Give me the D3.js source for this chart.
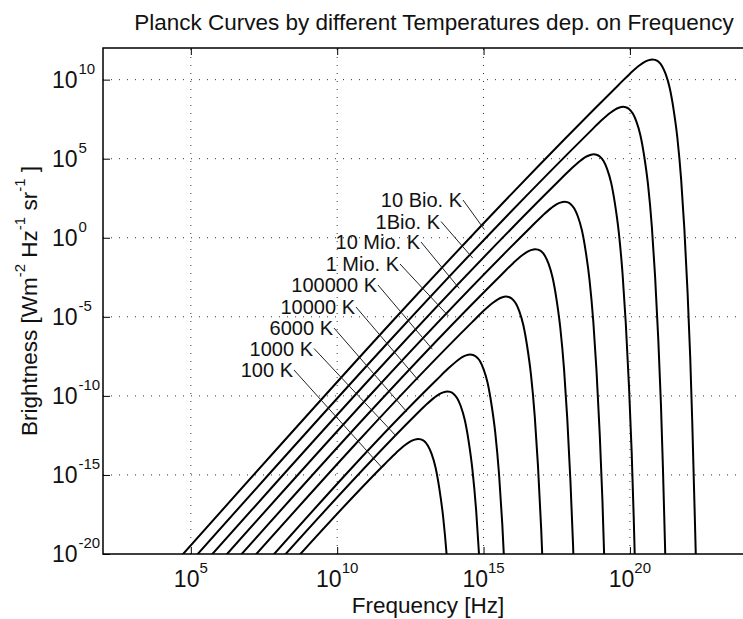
<!DOCTYPE html>
<html>
<head>
<meta charset="utf-8">
<script src="https://cdn.jsdelivr.net/npm/d3@7"></script>
<style>
  body { margin: 0; background: #fff; }
  text { font-family: "Liberation Sans", Arial, Helvetica, sans-serif; fill: #111; }
</style>
</head>
<body>
<svg id="chart" width="743" height="619"></svg>
<script>
// each curve: [log10 frequency in Hz, log10 brightness]
const curve100K = [[8.26,-20.99],[11.62,-14.32],[12.02,-13.59],[12.32,-13.11],[12.49,-12.89],[12.62,-12.78],[12.77,-12.72],[12.86,-12.75],[12.97,-12.86],[13.10,-13.15],[13.22,-13.64],[13.36,-14.53],[13.49,-15.86],[13.62,-17.66],[13.75,-20.31],[13.86,-23.44]];
const curve1000K = [[7.76,-20.99],[12.62,-11.32],[13.02,-10.59],[13.32,-10.11],[13.49,-9.89],[13.62,-9.78],[13.77,-9.72],[13.86,-9.75],[13.97,-9.86],[14.10,-10.15],[14.22,-10.64],[14.36,-11.53],[14.49,-12.86],[14.62,-14.66],[14.75,-17.31],[14.86,-20.44],[14.97,-24.46]];
const curve6000K = [[7.37,-20.99],[13.40,-8.98],[13.80,-8.26],[14.10,-7.78],[14.27,-7.55],[14.40,-7.44],[14.55,-7.39],[14.64,-7.41],[14.75,-7.53],[14.88,-7.81],[15.00,-8.31],[15.14,-9.19],[15.27,-10.53],[15.40,-12.32],[15.53,-14.97],[15.64,-18.11],[15.75,-22.12]];
const curve1e5K = [[6.76,-20.99],[14.62,-5.32],[15.02,-4.59],[15.32,-4.11],[15.49,-3.89],[15.62,-3.78],[15.77,-3.72],[15.86,-3.75],[15.97,-3.86],[16.10,-4.15],[16.22,-4.64],[16.36,-5.53],[16.49,-6.86],[16.62,-8.66],[16.75,-11.31],[16.86,-14.44],[16.97,-18.46],[17.06,-22.54]];
const curve1e6K = [[6.26,-20.99],[15.62,-2.32],[16.02,-1.59],[16.32,-1.11],[16.49,-0.89],[16.62,-0.78],[16.77,-0.72],[16.86,-0.75],[16.97,-0.86],[17.10,-1.15],[17.22,-1.64],[17.36,-2.53],[17.49,-3.86],[17.62,-5.66],[17.75,-8.31],[17.86,-11.44],[17.97,-15.46],[18.06,-19.54],[18.13,-23.67]];
const curve1e7K = [[5.76,-20.99],[16.62,0.68],[17.02,1.41],[17.32,1.89],[17.49,2.11],[17.62,2.22],[17.77,2.28],[17.86,2.25],[17.97,2.14],[18.10,1.85],[18.22,1.36],[18.36,0.47],[18.49,-0.86],[18.62,-2.66],[18.75,-5.31],[18.86,-8.44],[18.97,-12.46],[19.06,-16.54],[19.13,-20.67],[19.19,-24.82]];
const curve1e8K = [[5.26,-20.99],[17.62,3.68],[18.02,4.41],[18.32,4.89],[18.49,5.11],[18.62,5.22],[18.77,5.28],[18.86,5.25],[18.97,5.14],[19.10,4.85],[19.22,4.36],[19.36,3.47],[19.49,2.14],[19.62,0.34],[19.75,-2.31],[19.86,-5.44],[19.97,-9.46],[20.06,-13.54],[20.13,-17.67],[20.19,-21.82]];
const curve1e9K = [[4.76,-20.99],[18.62,6.68],[19.02,7.41],[19.32,7.89],[19.49,8.11],[19.62,8.22],[19.77,8.28],[19.86,8.25],[19.97,8.14],[20.10,7.85],[20.22,7.36],[20.36,6.47],[20.49,5.14],[20.62,3.34],[20.75,0.69],[20.86,-2.44],[20.97,-6.46],[21.06,-10.54],[21.13,-14.67],[21.19,-18.82],[21.25,-23.00]];
const curve1e10K = [[4.26,-20.99],[19.62,9.68],[20.02,10.41],[20.32,10.89],[20.49,11.11],[20.62,11.22],[20.77,11.28],[20.86,11.25],[20.97,11.14],[21.10,10.85],[21.22,10.36],[21.36,9.47],[21.49,8.14],[21.62,6.34],[21.75,3.69],[21.86,0.56],[21.97,-3.46],[22.06,-7.54],[22.13,-11.67],[22.19,-15.82],[22.25,-20.00],[22.30,-24.20]];

const curves = [curve100K, curve1000K, curve6000K, curve1e5K, curve1e6K, curve1e7K, curve1e8K, curve1e9K, curve1e10K];

// labels as printed in the figure, each one pointing at curves[i]
const labelTexts = ["100 K", "1000 K", "6000 K", "10000 K", "100000 K", "1 Mio. K", "10 Mio. K", "1Bio. K", "10 Bio. K"];
// log10 frequency where each leader line meets its curve
const labelTouchFreq = [11.52, 12.01, 12.38, 12.77, 13.25, 13.80, 14.17, 14.63, 15.03];

const xTickExp = [5, 10, 15, 20];
const yTickExp = [-20, -15, -10, -5, 0, 5, 10];

// layout
const plot = {left: 103, right: 747, top: 48, bottom: 554};
// right end / baseline of each label text
const labelPos = [[293, 377], [313, 355.5], [333, 335], [355, 314], [377, 292], [399, 271], [420, 249], [440, 228.5], [462, 207]];

const svg = d3.select("#chart");

const x = d3.scaleLog().domain([1e2, 1e24]).range([plot.left, plot.right]);
const y = d3.scaleLog().domain([1e-20, 1e12]).range([plot.bottom, plot.top]);

svg.append("rect").attr("width", 743).attr("height", 619).attr("fill", "#fff");

svg.append("defs").append("clipPath").attr("id", "clip")
    .append("rect")
    .attr("x", plot.left).attr("y", plot.top)
    .attr("width", plot.right - plot.left).attr("height", plot.bottom - plot.top);

// dotted grid
const grid = svg.append("g")
    .attr("stroke", "#333")
    .attr("stroke-width", 1)
    .attr("stroke-dasharray", "1,7");

grid.selectAll(".gx")
    .data(xTickExp)
    .join("line")
    .attr("x1", d => x(10 ** d)).attr("x2", d => x(10 ** d))
    .attr("y1", plot.bottom).attr("y2", plot.top);

grid.selectAll(".gy")
    .data(yTickExp.filter(d => d > -20))
    .join("line")
    .attr("x1", plot.left).attr("x2", plot.right)
    .attr("y1", d => y(10 ** d)).attr("y2", d => y(10 ** d));

// curves
const line = d3.line()
    .x(d => x(10 ** d[0]))
    .y(d => y(10 ** d[1]))
    .curve(d3.curveMonotoneX);

svg.append("g")
    .attr("clip-path", "url(#clip)")
    .selectAll("path")
    .data(curves)
    .join("path")
    .attr("d", line)
    .attr("fill", "none")
    .attr("stroke", "#000")
    .attr("stroke-width", 2);

// value of a curve at a given log frequency (straight segment in log-log)
function curveAt(c, lf) {
    for (let i = 1; i < c.length; i++) {
        if (lf <= c[i][0]) {
            const t = (lf - c[i - 1][0]) / (c[i][0] - c[i - 1][0]);
            return c[i - 1][1] + t * (c[i][1] - c[i - 1][1]);
        }
    }
    return c[c.length - 1][1];
}

// leader lines and labels
const labels = svg.append("g");
labelTexts.forEach((txt, i) => {
    const [tx, ty] = labelPos[i];
    const lf = labelTouchFreq[i];
    labels.append("line")
        .attr("x1", tx + 1).attr("y1", ty - 7)
        .attr("x2", x(10 ** lf)).attr("y2", y(10 ** curveAt(curves[i], lf)))
        .attr("stroke", "#222")
        .attr("stroke-width", 1);
    labels.append("text")
        .attr("x", tx).attr("y", ty)
        .attr("text-anchor", "end")
        .attr("font-size", 20)
        .text(txt);
});

// frame and inward ticks
svg.append("rect")
    .attr("x", plot.left).attr("y", plot.top)
    .attr("width", plot.right - plot.left).attr("height", plot.bottom - plot.top)
    .attr("fill", "none")
    .attr("stroke", "#000")
    .attr("stroke-width", 1.5);

const xAxisB = d3.axisBottom(x).tickValues(xTickExp.map(e => 10 ** e))
    .tickSizeInner(-7).tickSizeOuter(0).tickFormat("");
const xAxisT = d3.axisTop(x).tickValues(xTickExp.map(e => 10 ** e))
    .tickSizeInner(-7).tickSizeOuter(0).tickFormat("");
const yAxisL = d3.axisLeft(y).tickValues(yTickExp.map(e => 10 ** e))
    .tickSizeInner(-7).tickSizeOuter(0).tickFormat("");

const gxb = svg.append("g").attr("transform", `translate(0, ${plot.bottom})`).call(xAxisB);
const gxt = svg.append("g").attr("transform", `translate(0, ${plot.top})`).call(xAxisT);
const gyl = svg.append("g").attr("transform", `translate(${plot.left}, 0)`).call(yAxisL);
[gxb, gxt, gyl].forEach(g => {
    g.select(".domain").remove();
    g.selectAll(".tick line").attr("stroke", "#000").attr("stroke-width", 1);
});

// tick labels as 10 with superscript exponent
xTickExp.forEach(e => {
    const t = svg.append("text")
        .attr("x", x(10 ** e)).attr("y", 587)
        .attr("text-anchor", "middle")
        .attr("font-size", 23);
    t.append("tspan").text("10");
    t.append("tspan").attr("dy", -14).attr("font-size", 15).text(e);
});

yTickExp.forEach(e => {
    const yy = y(10 ** e);
    svg.append("text")
        .attr("x", 77.5).attr("y", yy + 8)
        .attr("text-anchor", "end")
        .attr("font-size", 23)
        .text("10");
    svg.append("text")
        .attr("x", 78.5).attr("y", yy - 6)
        .attr("font-size", 15)
        .text(e);
});

// title and axis labels
svg.append("text")
    .attr("x", 434).attr("y", 30)
    .attr("text-anchor", "middle")
    .attr("font-size", 22.5)
    .text("Planck Curves by different Temperatures dep. on Frequency");

svg.append("text")
    .attr("x", 428).attr("y", 613)
    .attr("text-anchor", "middle")
    .attr("font-size", 22.5)
    .text("Frequency [Hz]");

const yl = svg.append("text")
    .attr("transform", "translate(37, 301) rotate(-90)")
    .attr("text-anchor", "middle")
    .attr("font-size", 22.5);
[["Brightness [Wm", "-2"], [" Hz", "-1"], [" sr", "-1"], [" ]", null]].forEach(([base, sup]) => {
    yl.append("tspan").text(base);
    if (sup) {
        yl.append("tspan").attr("dy", -12).attr("font-size", 15).text(sup);
        yl.append("tspan").attr("dy", 12).text(" ");
    }
});
</script>
</body>
</html>
